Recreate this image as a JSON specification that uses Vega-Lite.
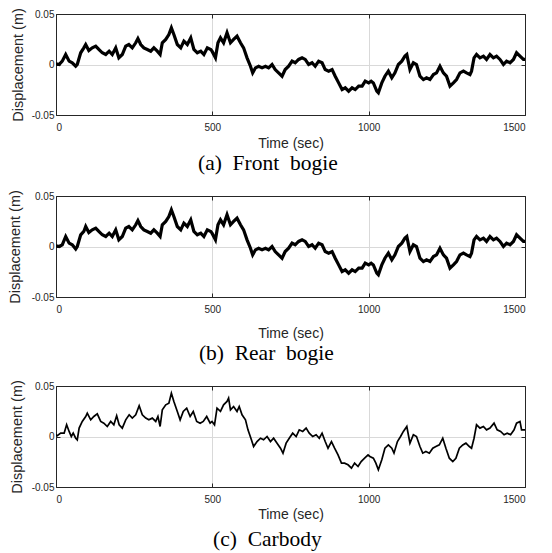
{
  "$schema": "https://vega.github.io/schema/vega-lite/v6.json",
  "background": "white",
  "padding": {"left": 7, "top": 7, "right": 20, "bottom": 1},
  "spacing": 14,
  "config": {
    "view": {"stroke": null},
    "font": "Liberation Sans",
    "axis": {
      "labelFont": "Liberation Sans",
      "labelFontSize": 10,
      "labelColor": "#262626",
      "titleFont": "Liberation Sans",
      "titleFontWeight": "normal",
      "titleColor": "#262626",
      "domainColor": "#262626",
      "domainWidth": 1,
      "tickColor": "#262626",
      "gridColor": "#d9d9d9",
      "gridWidth": 1
    },
    "axisX": {"labelPadding": 11, "tickSize": -4, "grid": true, "zindex": 1, "format": "d", "titleFontSize": 14},
    "axisY": {"labelPadding": 6, "tickSize": -4, "grid": true, "zindex": 1, "titleFontSize": 14.5,
              "labelExpr": "replace(format(datum.value, '.2~f'), '\u2212', '-')"},
    "title": {"font": "Liberation Serif", "fontSize": 21.5, "fontWeight": "normal", "color": "#000000", "frame": "bounds"}
  },
  "datasets": {
    "front": [
      {"t":0,"v":0.0007},{"t":10,"v":0},{"t":20,"v":0.0033},{"t":31,"v":0.0099},{"t":42,"v":0.0033},{"t":52,"v":0.0017},{"t":63,"v":-0.0017},{"t":68,"v":0},{"t":79,"v":0.0116},{"t":89,"v":0.0165},{"t":95,"v":0.0198},{"t":105,"v":0.0139},{"t":116,"v":0.0165},{"t":127,"v":0.0182},{"t":137,"v":0.0149},{"t":148,"v":0.0116},{"t":159,"v":0.0099},{"t":170,"v":0.0132},{"t":180,"v":0.0099},{"t":191,"v":0.0165},{"t":201,"v":0.0066},{"t":212,"v":0.0099},{"t":223,"v":0.0182},{"t":233,"v":0.0198},{"t":244,"v":0.0165},{"t":255,"v":0.0215},{"t":262,"v":0.0257},{"t":271,"v":0.0198},{"t":281,"v":0.0165},{"t":292,"v":0.0149},{"t":303,"v":0.0132},{"t":313,"v":0.0165},{"t":324,"v":0.0132},{"t":333,"v":0.0099},{"t":340,"v":0.0215},{"t":351,"v":0.0248},{"t":361,"v":0.0297},{"t":369,"v":0.0363},{"t":377,"v":0.0297},{"t":388,"v":0.0198},{"t":399,"v":0.0165},{"t":409,"v":0.0231},{"t":420,"v":0.0198},{"t":431,"v":0.0264},{"t":441,"v":0.0149},{"t":452,"v":0.0116},{"t":463,"v":0.0132},{"t":473,"v":0.0099},{"t":484,"v":0.0165},{"t":495,"v":0.0149},{"t":499,"v":0.0132},{"t":510,"v":0.0066},{"t":518,"v":0.0215},{"t":526,"v":0.0264},{"t":536,"v":0.0215},{"t":547,"v":0.0314},{"t":558,"v":0.0215},{"t":568,"v":0.0248},{"t":579,"v":0.028},{"t":590,"v":0.0215},{"t":600,"v":0.0165},{"t":611,"v":0.0066},{"t":622,"v":-0.0017},{"t":629,"v":-0.0083},{"t":638,"v":-0.0033},{"t":648,"v":-0.0017},{"t":659,"v":-0.0033},{"t":670,"v":-0.0017},{"t":680,"v":-0.0033},{"t":691,"v":0},{"t":701,"v":-0.005},{"t":712,"v":-0.0083},{"t":723,"v":-0.0116},{"t":733,"v":-0.005},{"t":744,"v":-0.0017},{"t":755,"v":0.0033},{"t":765,"v":0.0017},{"t":776,"v":0.005},{"t":787,"v":0.0066},{"t":797,"v":0.005},{"t":808,"v":0},{"t":819,"v":0.0017},{"t":829,"v":-0.0017},{"t":840,"v":0.0033},{"t":851,"v":0.0017},{"t":861,"v":-0.005},{"t":872,"v":-0.0066},{"t":883,"v":-0.005},{"t":893,"v":-0.0116},{"t":904,"v":-0.0182},{"t":915,"v":-0.0248},{"t":925,"v":-0.0231},{"t":936,"v":-0.0264},{"t":947,"v":-0.0231},{"t":957,"v":-0.0248},{"t":968,"v":-0.0215},{"t":979,"v":-0.0215},{"t":989,"v":-0.0165},{"t":1000,"v":-0.0182},{"t":1008,"v":-0.0165},{"t":1015,"v":-0.0182},{"t":1026,"v":-0.0264},{"t":1031,"v":-0.028},{"t":1042,"v":-0.0182},{"t":1052,"v":-0.0116},{"t":1063,"v":-0.0066},{"t":1074,"v":-0.0132},{"t":1084,"v":-0.0083},{"t":1095,"v":0},{"t":1106,"v":0.0033},{"t":1116,"v":0.0083},{"t":1122,"v":0.0099},{"t":1132,"v":-0.005},{"t":1143,"v":0.0017},{"t":1153,"v":0},{"t":1164,"v":-0.0116},{"t":1175,"v":-0.0149},{"t":1185,"v":-0.0132},{"t":1196,"v":-0.0149},{"t":1207,"v":-0.0099},{"t":1217,"v":-0.0083},{"t":1228,"v":-0.0017},{"t":1239,"v":-0.0083},{"t":1249,"v":-0.0116},{"t":1260,"v":-0.0215},{"t":1271,"v":-0.0182},{"t":1281,"v":-0.0149},{"t":1292,"v":-0.0083},{"t":1303,"v":-0.0066},{"t":1313,"v":-0.0083},{"t":1324,"v":-0.0099},{"t":1329,"v":-0.0066},{"t":1337,"v":0.0066},{"t":1345,"v":0.0099},{"t":1356,"v":0.0066},{"t":1367,"v":0.0083},{"t":1377,"v":0.005},{"t":1388,"v":0.0099},{"t":1399,"v":0.0066},{"t":1409,"v":0.0083},{"t":1420,"v":0.005},{"t":1431,"v":0},{"t":1441,"v":0.0033},{"t":1452,"v":0.0017},{"t":1463,"v":0.005},{"t":1473,"v":0.0116},{"t":1484,"v":0.0083},{"t":1495,"v":0.005},{"t":1500,"v":0.005}
    ],
    "rear": [
      {"t":0,"v":0.0007},{"t":10,"v":0},{"t":20,"v":0.0017},{"t":31,"v":0.0099},{"t":42,"v":0.0033},{"t":52,"v":0.0017},{"t":63,"v":-0.0025},{"t":68,"v":0},{"t":79,"v":0.0116},{"t":89,"v":0.0149},{"t":95,"v":0.0198},{"t":105,"v":0.0139},{"t":116,"v":0.0165},{"t":127,"v":0.0182},{"t":137,"v":0.0149},{"t":148,"v":0.0116},{"t":159,"v":0.0099},{"t":170,"v":0.0132},{"t":180,"v":0.0099},{"t":191,"v":0.0165},{"t":201,"v":0.0066},{"t":212,"v":0.0099},{"t":223,"v":0.0182},{"t":233,"v":0.0198},{"t":244,"v":0.0165},{"t":255,"v":0.0215},{"t":262,"v":0.0257},{"t":271,"v":0.0198},{"t":281,"v":0.0165},{"t":292,"v":0.0149},{"t":303,"v":0.0132},{"t":313,"v":0.0165},{"t":324,"v":0.0132},{"t":333,"v":0.0099},{"t":340,"v":0.0215},{"t":351,"v":0.0248},{"t":361,"v":0.0297},{"t":369,"v":0.0363},{"t":377,"v":0.0297},{"t":388,"v":0.0198},{"t":399,"v":0.0165},{"t":409,"v":0.0231},{"t":420,"v":0.0198},{"t":431,"v":0.0264},{"t":441,"v":0.0149},{"t":452,"v":0.0116},{"t":463,"v":0.0132},{"t":473,"v":0.0099},{"t":484,"v":0.0165},{"t":495,"v":0.0149},{"t":499,"v":0.0132},{"t":510,"v":0.0066},{"t":518,"v":0.0215},{"t":526,"v":0.0264},{"t":536,"v":0.0215},{"t":547,"v":0.0314},{"t":558,"v":0.0215},{"t":568,"v":0.0248},{"t":579,"v":0.028},{"t":590,"v":0.0215},{"t":600,"v":0.0165},{"t":611,"v":0.0066},{"t":622,"v":-0.0017},{"t":629,"v":-0.0083},{"t":638,"v":-0.0033},{"t":648,"v":-0.0017},{"t":659,"v":-0.0033},{"t":670,"v":-0.0017},{"t":680,"v":-0.0033},{"t":691,"v":0},{"t":701,"v":-0.005},{"t":712,"v":-0.0083},{"t":723,"v":-0.0116},{"t":733,"v":-0.005},{"t":744,"v":-0.0017},{"t":755,"v":0.0033},{"t":765,"v":0.0017},{"t":776,"v":0.005},{"t":787,"v":0.0066},{"t":797,"v":0.005},{"t":808,"v":0},{"t":819,"v":0.0017},{"t":829,"v":-0.0017},{"t":840,"v":0.0033},{"t":851,"v":0.0017},{"t":861,"v":-0.005},{"t":872,"v":-0.0066},{"t":883,"v":-0.005},{"t":893,"v":-0.0116},{"t":904,"v":-0.0182},{"t":915,"v":-0.0248},{"t":925,"v":-0.0231},{"t":936,"v":-0.0264},{"t":947,"v":-0.0231},{"t":957,"v":-0.0248},{"t":968,"v":-0.0215},{"t":979,"v":-0.0215},{"t":989,"v":-0.0165},{"t":1000,"v":-0.0182},{"t":1008,"v":-0.0165},{"t":1015,"v":-0.0182},{"t":1026,"v":-0.0264},{"t":1031,"v":-0.028},{"t":1042,"v":-0.0182},{"t":1052,"v":-0.0116},{"t":1063,"v":-0.0066},{"t":1074,"v":-0.0132},{"t":1084,"v":-0.0083},{"t":1095,"v":0},{"t":1106,"v":0.0033},{"t":1116,"v":0.0083},{"t":1122,"v":0.0099},{"t":1132,"v":-0.005},{"t":1143,"v":0.0017},{"t":1153,"v":0},{"t":1164,"v":-0.0116},{"t":1175,"v":-0.0149},{"t":1185,"v":-0.0132},{"t":1196,"v":-0.0149},{"t":1207,"v":-0.0099},{"t":1217,"v":-0.0083},{"t":1228,"v":-0.0017},{"t":1239,"v":-0.0083},{"t":1249,"v":-0.0116},{"t":1260,"v":-0.0215},{"t":1271,"v":-0.0182},{"t":1281,"v":-0.0149},{"t":1292,"v":-0.0083},{"t":1303,"v":-0.0066},{"t":1313,"v":-0.0083},{"t":1324,"v":-0.0099},{"t":1329,"v":-0.0066},{"t":1337,"v":0.0066},{"t":1345,"v":0.0099},{"t":1356,"v":0.0066},{"t":1367,"v":0.0083},{"t":1377,"v":0.005},{"t":1388,"v":0.0099},{"t":1399,"v":0.0066},{"t":1409,"v":0.0083},{"t":1420,"v":0.005},{"t":1431,"v":0},{"t":1441,"v":0.0033},{"t":1452,"v":0.0017},{"t":1463,"v":0.005},{"t":1473,"v":0.0116},{"t":1484,"v":0.0083},{"t":1495,"v":0.005},{"t":1500,"v":0.005}
    ],
    "body": [
      {"t":0,"v":0.0017},{"t":4,"v":0.0007},{"t":15,"v":0.0033},{"t":26,"v":0.0033},{"t":34,"v":0.0116},{"t":42,"v":0.005},{"t":49,"v":0},{"t":55,"v":0.0033},{"t":63,"v":-0.0017},{"t":68,"v":-0.0033},{"t":74,"v":0.0083},{"t":84,"v":0.0149},{"t":95,"v":0.0198},{"t":100,"v":0.0231},{"t":111,"v":0.0165},{"t":121,"v":0.0198},{"t":132,"v":0.0224},{"t":143,"v":0.0149},{"t":153,"v":0.0132},{"t":164,"v":0.0099},{"t":175,"v":0.0149},{"t":185,"v":0.0116},{"t":194,"v":0.0205},{"t":202,"v":0.0116},{"t":212,"v":0.0083},{"t":223,"v":0.0165},{"t":234,"v":0.0215},{"t":244,"v":0.0182},{"t":255,"v":0.0215},{"t":266,"v":0.0304},{"t":276,"v":0.0215},{"t":287,"v":0.0182},{"t":297,"v":0.0165},{"t":308,"v":0.0182},{"t":319,"v":0.0149},{"t":326,"v":0.0198},{"t":333,"v":0.0099},{"t":340,"v":0.0264},{"t":351,"v":0.0314},{"t":361,"v":0.033},{"t":369,"v":0.0429},{"t":377,"v":0.0347},{"t":388,"v":0.0248},{"t":397,"v":0.0165},{"t":407,"v":0.0248},{"t":418,"v":0.028},{"t":429,"v":0.0198},{"t":439,"v":0.0248},{"t":450,"v":0.0149},{"t":461,"v":0.0132},{"t":471,"v":0.0149},{"t":482,"v":0.0198},{"t":493,"v":0.0132},{"t":499,"v":0.0149},{"t":507,"v":0.0116},{"t":515,"v":0.028},{"t":526,"v":0.0248},{"t":536,"v":0.0314},{"t":547,"v":0.0347},{"t":552,"v":0.038},{"t":558,"v":0.0264},{"t":568,"v":0.0297},{"t":579,"v":0.0248},{"t":586,"v":0.0297},{"t":595,"v":0.0215},{"t":606,"v":0.0165},{"t":614,"v":0.0066},{"t":625,"v":-0.0033},{"t":632,"v":-0.0099},{"t":643,"v":-0.005},{"t":654,"v":-0.0017},{"t":664,"v":-0.0033},{"t":675,"v":0},{"t":686,"v":-0.005},{"t":696,"v":-0.0017},{"t":707,"v":-0.0066},{"t":718,"v":-0.0116},{"t":726,"v":-0.0165},{"t":736,"v":-0.0066},{"t":746,"v":-0.0017},{"t":757,"v":0.0033},{"t":768,"v":0},{"t":778,"v":0.0066},{"t":789,"v":0.005},{"t":800,"v":0.0083},{"t":810,"v":0.0033},{"t":821,"v":0},{"t":832,"v":0.0017},{"t":842,"v":-0.0017},{"t":851,"v":0.0033},{"t":861,"v":-0.005},{"t":870,"v":-0.0116},{"t":881,"v":-0.005},{"t":891,"v":-0.0116},{"t":902,"v":-0.0182},{"t":913,"v":-0.0264},{"t":923,"v":-0.0264},{"t":934,"v":-0.028},{"t":945,"v":-0.0314},{"t":955,"v":-0.0264},{"t":966,"v":-0.0297},{"t":976,"v":-0.0248},{"t":987,"v":-0.0215},{"t":998,"v":-0.0182},{"t":1004,"v":-0.0198},{"t":1015,"v":-0.0215},{"t":1023,"v":-0.0264},{"t":1031,"v":-0.033},{"t":1042,"v":-0.0231},{"t":1052,"v":-0.0116},{"t":1063,"v":-0.0083},{"t":1074,"v":-0.0116},{"t":1081,"v":-0.0165},{"t":1092,"v":-0.005},{"t":1102,"v":0},{"t":1111,"v":0.005},{"t":1122,"v":0.0099},{"t":1132,"v":-0.0066},{"t":1143,"v":0.0017},{"t":1153,"v":0},{"t":1164,"v":-0.0099},{"t":1173,"v":-0.0165},{"t":1183,"v":-0.0149},{"t":1194,"v":-0.0165},{"t":1205,"v":-0.0116},{"t":1215,"v":-0.0099},{"t":1226,"v":-0.0083},{"t":1237,"v":-0.0017},{"t":1247,"v":-0.0116},{"t":1258,"v":-0.0215},{"t":1269,"v":-0.0248},{"t":1279,"v":-0.0215},{"t":1290,"v":-0.0116},{"t":1301,"v":-0.0083},{"t":1311,"v":-0.0066},{"t":1322,"v":-0.0099},{"t":1329,"v":-0.0116},{"t":1337,"v":-0.0017},{"t":1345,"v":0.0116},{"t":1356,"v":0.0083},{"t":1367,"v":0.0099},{"t":1377,"v":0.0066},{"t":1388,"v":0.0083},{"t":1401,"v":0.0132},{"t":1411,"v":0.0066},{"t":1422,"v":0.005},{"t":1433,"v":0.0017},{"t":1443,"v":0.0033},{"t":1454,"v":0.0017},{"t":1465,"v":0.0066},{"t":1473,"v":0.0132},{"t":1484,"v":0.0149},{"t":1489,"v":0.0066},{"t":1500,"v":0.0066}
    ]
  },
  "vconcat": [
    {
      "data": {"name": "front"},
      "width": 469,
      "height": 101,
      "title": {"text": "(a)\u00a0\u00a0Front\u00a0\u00a0bogie", "orient": "bottom", "offset": 3},
      "layer": [
        {
          "mark": {"type": "line", "color": "#000000", "strokeWidth": 3.2, "clip": true},
          "encoding": {
            "x": {"field": "t", "type": "quantitative", "scale": {"domain": [0, 1500], "nice": false},
                  "axis": {"values": [0, 500, 1000, 1500], "title": "Time (sec)", "titlePadding": 4}},
            "y": {"field": "v", "type": "quantitative", "scale": {"domain": [-0.05, 0.05], "nice": false},
                  "axis": {"values": [-0.05, 0, 0.05], "title": "Displacement (m)", "titlePadding": 6}}
          }
        },
        {
          "mark": {"type": "line", "opacity": 0},
          "encoding": {
            "x": {"field": "t", "type": "quantitative", "axis": {"orient": "top", "values": [0, 500, 1000, 1500], "labels": false, "title": null, "grid": false}},
            "y": {"field": "v", "type": "quantitative", "axis": {"orient": "right", "values": [-0.05, 0, 0.05], "labels": false, "title": null, "grid": false}}
          }
        }
      ],
      "resolve": {"axis": {"x": "independent", "y": "independent"}}
    },
    {
      "data": {"name": "rear"},
      "width": 469,
      "height": 101,
      "title": {"text": "(b)\u00a0\u00a0Rear\u00a0\u00a0bogie", "orient": "bottom", "offset": 3},
      "layer": [
        {
          "mark": {"type": "line", "color": "#000000", "strokeWidth": 3.2, "clip": true},
          "encoding": {
            "x": {"field": "t", "type": "quantitative", "scale": {"domain": [0, 1500], "nice": false},
                  "axis": {"values": [0, 500, 1000, 1500], "title": "Time (sec)", "titlePadding": 12}},
            "y": {"field": "v", "type": "quantitative", "scale": {"domain": [-0.05, 0.05], "nice": false},
                  "axis": {"values": [-0.05, 0, 0.05], "title": "Displacement (m)", "titlePadding": 9}}
          }
        },
        {
          "mark": {"type": "line", "opacity": 0},
          "encoding": {
            "x": {"field": "t", "type": "quantitative", "axis": {"orient": "top", "values": [0, 500, 1000, 1500], "labels": false, "title": null, "grid": false}},
            "y": {"field": "v", "type": "quantitative", "axis": {"orient": "right", "values": [-0.05, 0, 0.05], "labels": false, "title": null, "grid": false}}
          }
        }
      ],
      "resolve": {"axis": {"x": "independent", "y": "independent"}}
    },
    {
      "data": {"name": "body"},
      "width": 469,
      "height": 101,
      "title": {"text": "(c)\u00a0\u00a0Carbody", "orient": "bottom", "offset": 8},
      "layer": [
        {
          "mark": {"type": "line", "color": "#000000", "strokeWidth": 1.7, "clip": true},
          "encoding": {
            "x": {"field": "t", "type": "quantitative", "scale": {"domain": [0, 1500], "nice": false},
                  "axis": {"values": [0, 500, 1000, 1500], "title": "Time (sec)", "titlePadding": 3}},
            "y": {"field": "v", "type": "quantitative", "scale": {"domain": [-0.05, 0.05], "nice": false},
                  "axis": {"values": [-0.05, 0, 0.05], "title": "Displacement (m)", "titlePadding": 7}}
          }
        },
        {
          "mark": {"type": "line", "opacity": 0},
          "encoding": {
            "x": {"field": "t", "type": "quantitative", "axis": {"orient": "top", "values": [0, 500, 1000, 1500], "labels": false, "title": null, "grid": false}},
            "y": {"field": "v", "type": "quantitative", "axis": {"orient": "right", "values": [-0.05, 0, 0.05], "labels": false, "title": null, "grid": false}}
          }
        }
      ],
      "resolve": {"axis": {"x": "independent", "y": "independent"}}
    }
  ]
}
